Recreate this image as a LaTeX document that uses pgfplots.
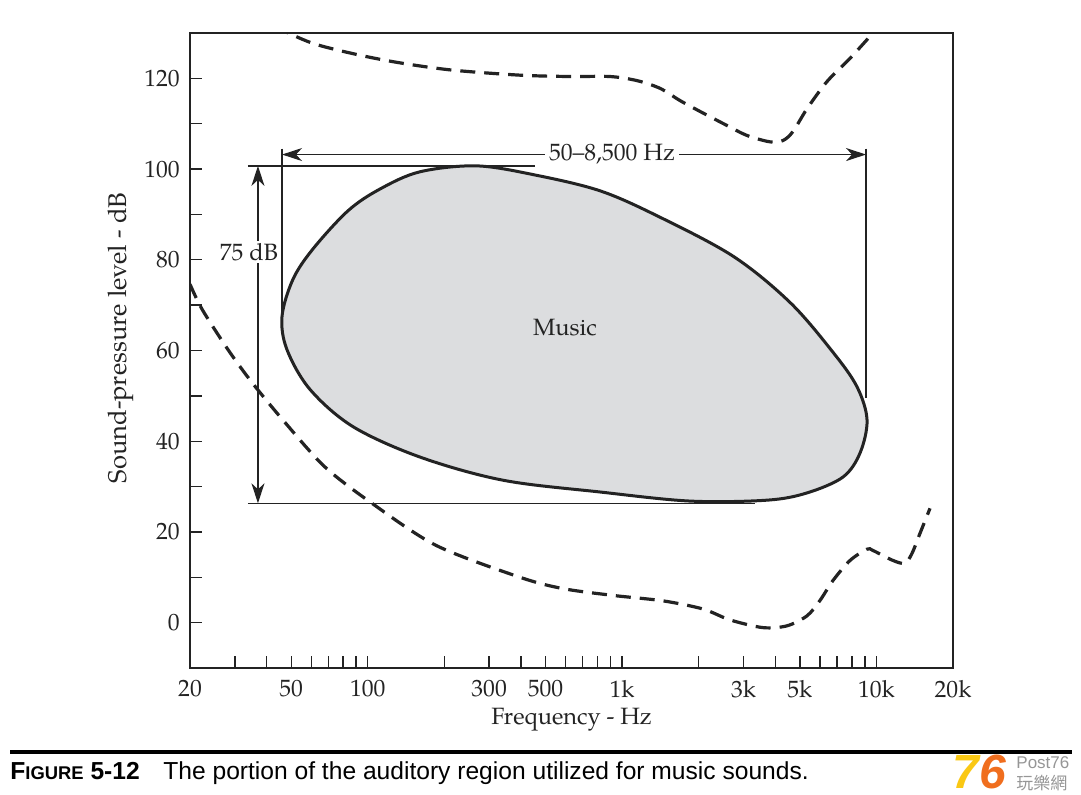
\documentclass[border=0pt]{standalone}
\usepackage{pgfplots}
\pgfplotsset{compat=1.18}
\usepackage{fontspec}
\setmainfont{TeX Gyre Pagella}
\newfontfamily\capfont{Liberation Sans}
\newfontfamily\cjk{Noto Sans CJK TC}
\usetikzlibrary{arrows.meta}
\definecolor{musicfill}{RGB}{220,221,223}
\definecolor{ink}{RGB}{35,35,35}
\definecolor{wmgold}{RGB}{250,200,20}
\definecolor{wmorange}{RGB}{240,110,30}
\definecolor{wmgray}{RGB}{150,150,150}
\tikzset{dimarrow/.style={ink, line width=0.65pt, {Stealth[length=10pt,width=6.5pt,inset=3pt]}-{Stealth[length=10pt,width=6.5pt,inset=3pt]}}}
\begin{document}
\fontsize{11.8pt}{14pt}\selectfont
\begin{tikzpicture}[x=1pt,y=1pt]
\fill[white] (0,0) rectangle (540.5,397.5);
\begin{axis}[
  at={(95pt,63.5pt)}, anchor=south west,
  scale only axis, width=381.5pt, height=317.5pt,
  xmode=log, xmin=20, xmax=20000, ymin=-10, ymax=130,
  xtick={20,50,100,300,500,1000,3000,5000,10000,20000},
  xticklabels={20,50,100,300,500,1k,3k,5k,10k,20k},
  minor xtick={30,40,60,70,80,90,200,400,600,700,800,900,2000,4000,6000,7000,8000,9000},
  ytick={0,20,40,60,80,100,120},
  yticklabels={0,20,40,60,80,100,120},
  minor ytick={10,30,50,70,90,110},
  tick pos=left, tick align=inside,
  major tick length=6pt, minor tick length=6pt,
  axis line style={ink, line width=1pt},
  tick style={ink, line width=0.7pt},
  minor tick style={ink, line width=0.7pt},
  xticklabel style={yshift=-2pt, text=ink},
  yticklabel style={xshift=-1pt, text=ink},
  xlabel={Frequency - Hz},
  ylabel={Sound-pressure level - dB},
  xlabel style={at={(axis description cs:0.5,-0.082)}, anchor=center, text=ink},
  ylabel style={at={(axis description cs:-0.0904,0.5197)}, anchor=center, text=ink, font=\fontsize{12.8pt}{15pt}\selectfont},
]
% extension and dimension lines
\draw[ink, line width=0.65pt] (axis cs:46.0,104.5) -- (axis cs:46.0,67.5);
\draw[ink, line width=0.65pt] (axis cs:9100,104.5) -- (axis cs:9100,49.6);
\draw[ink, line width=0.65pt] (axis cs:33.8,100.7) -- (axis cs:455,100.7);
\draw[ink, line width=0.65pt] (axis cs:33.8,26.3) -- (axis cs:3330,26.3);
\draw[dimarrow] (axis cs:46.0,103.2) -- (axis cs:9100,103.2);
\draw[dimarrow] (axis cs:37.0,100.7) -- (axis cs:37.0,26.3);
\node[fill=white, inner sep=2pt, text=ink] at (axis cs:912,103.2) {50--8,500 Hz};
\node[fill=white, inner sep=1pt, text=ink] at (axis cs:34.1,81.7) {75 dB};

% threshold of pain (upper dashed)
\addplot[ink, line width=1.6pt, dash pattern=on 7.5pt off 4.5pt, smooth] coordinates {
 (43.0,131.4) (60.9,127.7) (93.2,125.1) (137.6,123.3) (216.3,121.8) (396.8,120.7)
 (624,120.4) (896,120.4) (1144,119.5) (1409,117.8) (1689,115.1) (2025,112.7)
 (2585,109.6) (3099,107.4) (3815,106.0) (4293,106.3) (4699,108.3) (5333,113.3)
 (6393,119.3) (7872,124.4) (9694,130.0) (10143,131.1)
};
% threshold of hearing (lower dashed)
\addplot[ink, line width=1.6pt, dash pattern=on 7.5pt off 4.5pt, smooth] coordinates {
 (20,74.6) (22.3,69.1) (28.2,60.2) (35.1,52.9) (47.3,44.1) (67.9,34.3) (103.9,26.3)
 (186,17.0) (396.8,10.0) (585.7,7.5) (920.9,6.0) (1448,4.8)
 (2080,3.0) (2656,0.6) (3581,-1.1) (4450,-0.7) (5333,1.5) (5999,4.9) (6749,9.3)
 (7872,13.7) (9182,16.2) (9694,15.9) (11619,13.7) (12952,13.1) (13803,15.3)
 (14837,19.7) (16240,25.2)
};
% music region
\addplot[ink, line width=1.5pt, fill=musicfill, smooth cycle, tension=0.55] coordinates {
 (268.8,100.7) (463,98.6) (819,95.2) (1372,89.7) (2729,80.8) (4572,70.6)
 (6749,59.6) (8385,52.0) (9182,44.7) (8619,37.4) (7388,32.1) (5333,28.6)
 (3713,27.0) (1849,26.8) (819,28.8) (340,31.4) (160.5,36.5) (87.5,43.2)
 (59.3,51.4) (48.1,60.2) (46.0,67.5) (50.8,75.7) (60.9,82.4) (83.6,90.8)
 (111.7,95.6) (160.5,99.4)
};
\node[text=ink] at (axis cs:596,65.1) {Music};
\end{axis}
% caption
\draw[black, line width=1.75pt] (5,21.5) -- (536,21.5);
\node[anchor=base west, inner sep=0pt, font=\capfont\bfseries\fontsize{12.3pt}{14pt}\selectfont] at (5,7.5)
  {F{\fontsize{9.2pt}{10pt}\selectfont IGURE} 5-12};
\node[anchor=base west, inner sep=0pt, font=\capfont\fontsize{12.3pt}{14pt}\selectfont] at (81.5,7.5)
  {The portion of the auditory region utilized for music sounds.};
% watermark
\node[anchor=base west, inner sep=0pt, font=\capfont\bfseries\itshape\fontsize{24pt}{26pt}\selectfont] at (476,3)
  {\textcolor{wmgold}{7}\textcolor{wmorange}{6}};
\node[anchor=base west, inner sep=0pt, text=wmgray, font=\capfont\fontsize{8.5pt}{10pt}\selectfont] at (508,13.3)
  {Post76};
\node[anchor=base west, inner sep=0pt, text=wmgray, font=\cjk\fontsize{8.5pt}{10pt}\selectfont] at (508,2.5)
  {玩樂網};
\end{tikzpicture}
\end{document}
